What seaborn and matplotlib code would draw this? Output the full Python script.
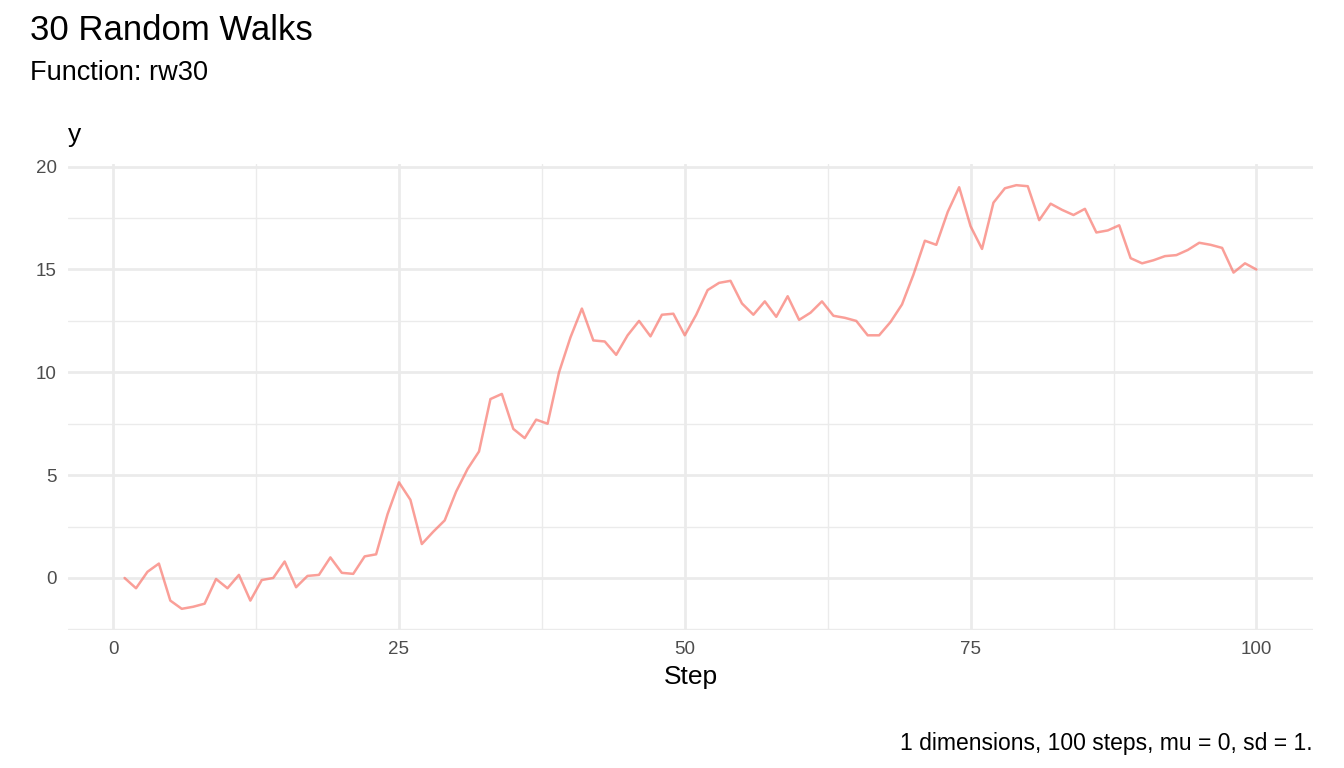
import numpy as np
import pandas as pd
import seaborn as sns
from matplotlib import pyplot as plt
from matplotlib.ticker import MultipleLocator

steps = list(range(1, 101))
y = [0.0, -0.5, 0.3, 0.7, -1.1, -1.5, -1.4, -1.25, -0.05, -0.5,
     0.15, -1.1, -0.1, 0.0, 0.8, -0.45, 0.1, 0.15, 1.0, 0.25,
     0.2, 1.05, 1.15, 3.1, 4.65, 3.8, 1.65, 2.25, 2.8, 4.2,
     5.3, 6.15, 8.7, 8.95, 7.25, 6.8, 7.7, 7.5, 10.0, 11.7,
     13.1, 11.55, 11.5, 10.85, 11.8, 12.5, 11.75, 12.8, 12.85, 11.8,
     12.8, 14.0, 14.35, 14.45, 13.35, 12.8, 13.45, 12.7, 13.7, 12.55,
     12.9, 13.45, 12.75, 12.65, 12.5, 11.8, 11.8, 12.45, 13.3, 14.75,
     16.4, 16.2, 17.8, 19.0, 17.1, 16.0, 18.25, 18.95, 19.1, 19.05,
     17.4, 18.2, 17.9, 17.65, 17.95, 16.8, 16.9, 17.15, 15.55, 15.3,
     15.45, 15.65, 15.7, 15.95, 16.3, 16.2, 16.05, 14.85, 15.3, 15.0]

df = pd.DataFrame({'Step': steps, 'y': y})

sns.set_theme(style='white')
plt.rcParams['font.family'] = ['Liberation Sans', 'DejaVu Sans']

fig = plt.figure(figsize=(13.44, 7.68), dpi=100)
ax = fig.add_axes([68/1344, 1 - 630/768, (1313-68)/1344, (630-164)/768])

ax.xaxis.set_major_locator(MultipleLocator(25))
ax.xaxis.set_minor_locator(MultipleLocator(12.5))
ax.yaxis.set_major_locator(MultipleLocator(5))
ax.yaxis.set_minor_locator(MultipleLocator(2.5))
ax.grid(which='major', color='#EBEBEB', linewidth=2)
ax.grid(which='minor', color='#EBEBEB', linewidth=1)
ax.set_axisbelow(True)

sns.lineplot(data=df, x='Step', y='y', ax=ax, color='#F8766D', alpha=0.7, linewidth=1.8)

ax.set_xlim(-3.95, 104.95)
ax.set_ylim(-2.53, 20.13)
for s in ax.spines.values():
    s.set_visible(False)
ax.tick_params(axis='both', which='both', length=0, labelsize=13.5, labelcolor='#4D4D4D', pad=8)
ax.set_xlabel('Step', fontsize=19, labelpad=5, color='black')
ax.set_ylabel('')
fig.text(68/1344, 1 - 142/768, 'y', fontsize=19, va='baseline', color='black')

fig.text(30/1344, 1 - 40/768, '30 Random Walks', fontsize=25, va='baseline', color='black')
fig.text(30/1344, 1 - 80/768, 'Function: rw30', fontsize=19.5, va='baseline', color='black')
fig.text(1313/1344, 1 - 750/768, '1 dimensions, 100 steps, mu = 0, sd = 1.', fontsize=16.5,
         ha='right', va='baseline', color='black')

plt.savefig('out.png', dpi=100)
